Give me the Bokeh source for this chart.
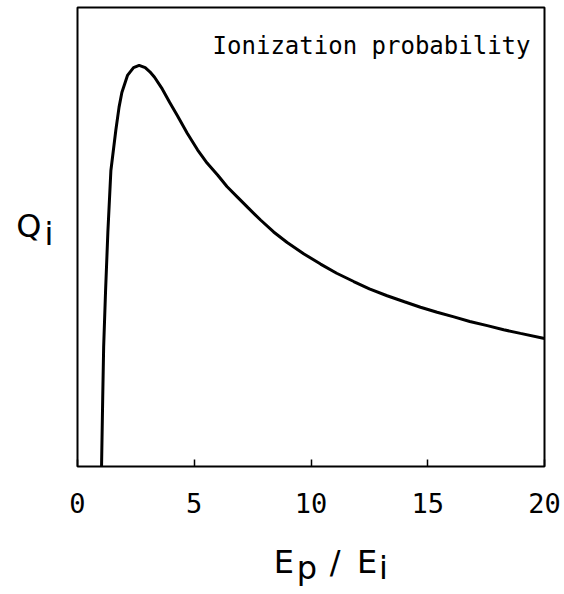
from bokeh.plotting import figure
from bokeh.models import Range1d, FixedTicker, Label, LinearAxis
from bokeh.embed import file_html
from bokeh.resources import INLINE

# ---- data ----
energy_ratio = [1.03, 1.08, 1.12, 1.20, 1.30, 1.43, 1.64, 1.78, 1.90, 2.14, 2.40, 2.64,
                2.90, 3.10, 3.30, 3.60, 3.95, 4.28, 4.70, 5.14, 5.55, 6.00, 6.40, 6.85,
                7.30, 7.84, 8.40, 8.98, 9.70, 10.41, 11.10, 11.83, 12.50, 13.26, 14.00,
                14.69, 15.40, 16.12, 16.80, 17.55, 18.25, 18.97, 20.00]
ionization_q = [0.000, 0.150, 0.260, 0.380, 0.510, 0.645, 0.732, 0.783, 0.815, 0.852, 0.869, 0.874,
                0.869, 0.860, 0.848, 0.825, 0.793, 0.764, 0.726, 0.690, 0.661, 0.635, 0.610, 0.587,
                0.564, 0.537, 0.511, 0.488, 0.463, 0.441, 0.421, 0.403, 0.387, 0.372, 0.359,
                0.347, 0.336, 0.326, 0.316, 0.307, 0.298, 0.290, 0.279]
x_ticks = [0, 5, 10, 15, 20]
annotation_text = "Ionization probability"
# axis titles, split into pieces (main letters and their subscripts)
x_title_main = {8.84: "E", 11.03: "/", 12.40: "E"}
x_title_sub = {9.83: "p", 13.10: "i"}
y_title_main = {0.525: "Q"}
y_title_sub = {0.506: "i"}

W, H = 564, 594
FL, FR, FT, FB = 77, 20, 7, 128
X0, X1, Y0, Y1 = 0, 20, 0, 1

p = figure(width=W, height=H, x_range=Range1d(X0, X1), y_range=Range1d(Y0, Y1),
           output_backend="svg", toolbar_location=None, y_axis_location=None,
           min_border_left=FL, min_border_right=FR, min_border_top=FT,
           min_border_bottom=FB)
p.grid.visible = False
p.background_fill_color = "white"
p.border_fill_color = "white"
p.outline_line_color = "black"
p.outline_line_width = 2


def style_axis(ax, font, size, standoff):
    ax.axis_line_color = None
    ax.minor_tick_line_color = None
    ax.major_label_text_font = font
    ax.major_label_text_font_size = size
    ax.major_label_text_color = "black"
    ax.major_label_standoff = standoff


ax = p.xaxis[0]
ax.ticker = FixedTicker(ticks=x_ticks)
style_axis(ax, "DejaVu Sans Mono", "27px", 26)
ax.major_tick_in = 7
ax.major_tick_out = 0
ax.major_tick_line_color = "black"
ax.major_tick_line_width = 1.5


def title_axis(pieces, side, standoff):
    a = LinearAxis(ticker=FixedTicker(ticks=list(pieces.keys())),
                   major_label_overrides=dict(pieces))
    style_axis(a, "DejaVu Sans", "32px", standoff)
    a.major_tick_line_color = None
    a.major_tick_in = 0
    a.major_tick_out = 0
    p.add_layout(a, side)
    return a


title_axis(x_title_main, "below", 27)
title_axis(x_title_sub, "below", -35)
title_axis(y_title_sub, "left", 24)
title_axis(y_title_main, "left", 0)

p.line(energy_ratio, ionization_q, line_color="black", line_width=3)

fw = W - FL - FR
fh = H - FT - FB


def to_data(px, py):
    return (X0 + (px - FL) / fw * (X1 - X0),
            Y0 + (FT + fh - py) / fh * (Y1 - Y0))


ax_, ay_ = to_data(530, 45)
p.add_layout(Label(x=ax_, y=ay_, text=annotation_text, text_font="DejaVu Sans Mono",
                   text_font_size="24px", text_align="right",
                   text_baseline="alphabetic", text_color="black"))

open("out.html", "w").write(file_html(p, INLINE))
